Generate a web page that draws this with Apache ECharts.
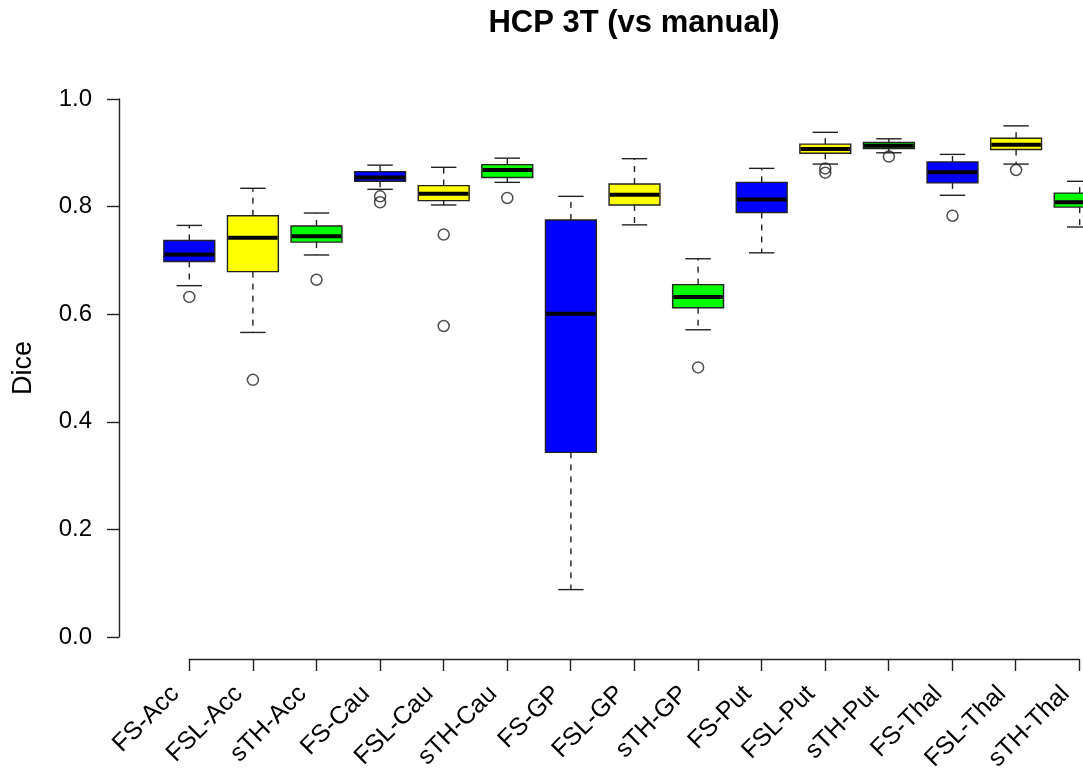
<!DOCTYPE html>
<html>
<head>
<meta charset="utf-8">
<script src="https://cdn.jsdelivr.net/npm/echarts@6/dist/echarts.min.js"></script>
<style>
html,body{margin:0;padding:0;background:#fff;}
#chart{width:1083px;height:775px;}
</style>
</head>
<body>
<div id="chart"></div>
<script>
// ---- data ----
const categories = ['FS-Acc','FSL-Acc','sTH-Acc','FS-Cau','FSL-Cau','sTH-Cau','FS-GP','FSL-GP','sTH-GP','FS-Put','FSL-Put','sTH-Put','FS-Thal','FSL-Thal','sTH-Thal'];
const lowWhisker  = [0.654, 0.567, 0.711, 0.833, 0.804, 0.846, 0.089, 0.767, 0.572, 0.715, 0.880, 0.901, 0.822, 0.880, 0.763];
const q1          = [0.699, 0.680, 0.735, 0.848, 0.812, 0.855, 0.344, 0.804, 0.613, 0.790, 0.900, 0.909, 0.845, 0.907, 0.800];
const median      = [0.712, 0.743, 0.746, 0.855, 0.825, 0.869, 0.602, 0.823, 0.633, 0.814, 0.908, 0.914, 0.865, 0.916, 0.809];
const q3          = [0.738, 0.784, 0.765, 0.866, 0.840, 0.879, 0.776, 0.843, 0.656, 0.846, 0.917, 0.920, 0.884, 0.928, 0.826];
const highWhisker = [0.766, 0.835, 0.789, 0.878, 0.874, 0.891, 0.820, 0.890, 0.704, 0.872, 0.939, 0.927, 0.898, 0.951, 0.848];
const outlierCategory = ['FS-Acc','FSL-Acc','sTH-Acc','FS-Cau','FS-Cau','FSL-Cau','FSL-Cau','sTH-Cau','sTH-GP','FSL-Put','FSL-Put','sTH-Put','FS-Thal','FSL-Thal'];
const outlierValue    = [0.633, 0.479, 0.665, 0.820, 0.809, 0.749, 0.579, 0.817, 0.502, 0.872, 0.864, 0.894, 0.784, 0.869];
const yTickValues = [0, 0.2, 0.4, 0.6, 0.8, 1.0];

// ---- styles ----
const methodFill = ['#0000FF', '#FFFF00', '#00FF00'];
const lineColor = '#222';
const fontFamily = '"Liberation Sans", Arial, Helvetica, sans-serif';

const boxData = categories.map((c, i) => [i, lowWhisker[i], q1[i], median[i], q3[i], highWhisker[i]]);
const outlierData = outlierCategory.map((c, k) => [categories.indexOf(c), outlierValue[k]]);

const chart = echarts.init(document.getElementById('chart'), null, {renderer: 'canvas'});

function renderBox(params, api) {
  const i = api.value(0);
  const pLo = api.coord([i, api.value(1)]);
  const pQ1 = api.coord([i, api.value(2)]);
  const pMed = api.coord([i, api.value(3)]);
  const pQ3 = api.coord([i, api.value(4)]);
  const pHi = api.coord([i, api.value(5)]);
  const band = api.size([1, 0])[0];
  const bw = band * 0.8;
  const cw = bw / 2;
  const cx = pMed[0];
  const dashed = {stroke: lineColor, lineWidth: 1.4, lineDash: [6, 6]};
  const solid = {stroke: lineColor, lineWidth: 1.4};
  return {
    type: 'group',
    children: [
      {type: 'line', shape: {x1: cx, y1: pQ3[1], x2: cx, y2: pHi[1]}, style: dashed},
      {type: 'line', shape: {x1: cx, y1: pQ1[1], x2: cx, y2: pLo[1]}, style: dashed},
      {type: 'line', shape: {x1: cx - cw / 2, y1: pHi[1], x2: cx + cw / 2, y2: pHi[1]}, style: solid},
      {type: 'line', shape: {x1: cx - cw / 2, y1: pLo[1], x2: cx + cw / 2, y2: pLo[1]}, style: solid},
      {type: 'rect', shape: {x: cx - bw / 2, y: pQ3[1], width: bw, height: pQ1[1] - pQ3[1]},
        style: {fill: methodFill[params.dataIndex % 3], stroke: lineColor, lineWidth: 1.4}},
      {type: 'line', shape: {x1: cx - bw / 2 + 0.7, y1: pMed[1], x2: cx + bw / 2 - 0.7, y2: pMed[1]},
        style: {stroke: '#000', lineWidth: 4}}
    ]
  };
}

const option = {
  animation: false,
  backgroundColor: '#fff',
  title: {
    text: 'HCP 3T (vs manual)',
    left: 634, top: 8, padding: 0,
    textAlign: 'center',
    textStyle: {fontFamily: fontFamily, fontSize: 31, fontWeight: 'bold', color: '#000'}
  },
  grid: [
    {left: 157.5, top: 78, width: 954, height: 581, containLabel: false, outerBoundsMode: 'none'},
    {left: 189.3, top: 78, width: 890, height: 581, containLabel: false, outerBoundsMode: 'none'},
    {left: 119, top: 99, width: 900, height: 538, containLabel: false, outerBoundsMode: 'none'}
  ],
  xAxis: [
    {
      type: 'category', gridIndex: 0, data: categories, boundaryGap: true,
      axisLine: {show: false}, axisTick: {show: false},
      axisLabel: {
        rotate: 45, interval: 0, margin: 17, color: '#000',
        fontFamily: fontFamily, fontSize: 25, padding: [0, 20, 0, 0]
      },
      splitLine: {show: false}
    },
    {
      type: 'value', gridIndex: 1, min: 1, max: 15, interval: 1,
      axisLine: {show: true, onZero: false, lineStyle: {color: lineColor, width: 1.4}},
      axisTick: {show: true, length: 12, lineStyle: {color: lineColor, width: 1.4}},
      axisLabel: {show: false}, splitLine: {show: false}
    },
    {type: 'value', gridIndex: 2, show: false}
  ],
  yAxis: [
    {type: 'value', gridIndex: 0, min: -0.04, max: 1.04, show: false},
    {type: 'value', gridIndex: 1, min: -0.04, max: 1.04, show: false},
    {
      type: 'value', gridIndex: 2, min: yTickValues[0], max: yTickValues[yTickValues.length - 1], interval: 0.2,
      axisLine: {show: true, onZero: false, lineStyle: {color: lineColor, width: 1.4}},
      axisTick: {show: true, length: 12, lineStyle: {color: lineColor, width: 1.4}},
      axisLabel: {margin: 27, color: '#000', fontFamily: fontFamily, fontSize: 24,
        formatter: v => v.toFixed(1)},
      splitLine: {show: false},
      name: 'Dice', nameLocation: 'middle', nameGap: 82, nameRotate: 90,
      nameTextStyle: {fontFamily: fontFamily, fontSize: 27, color: '#000'}
    }
  ],
  series: [
    {
      type: 'custom', xAxisIndex: 0, yAxisIndex: 0,
      renderItem: renderBox,
      encode: {x: 0, y: [1, 2, 3, 4, 5]},
      data: boxData, z: 2
    },
    {
      type: 'scatter', xAxisIndex: 0, yAxisIndex: 0,
      data: outlierData, symbol: 'circle', symbolSize: 11,
      itemStyle: {color: 'rgba(0,0,0,0)', borderColor: lineColor, borderWidth: 1.5},
      z: 3
    }
  ]
};
chart.setOption(option);
</script>
</body>
</html>
